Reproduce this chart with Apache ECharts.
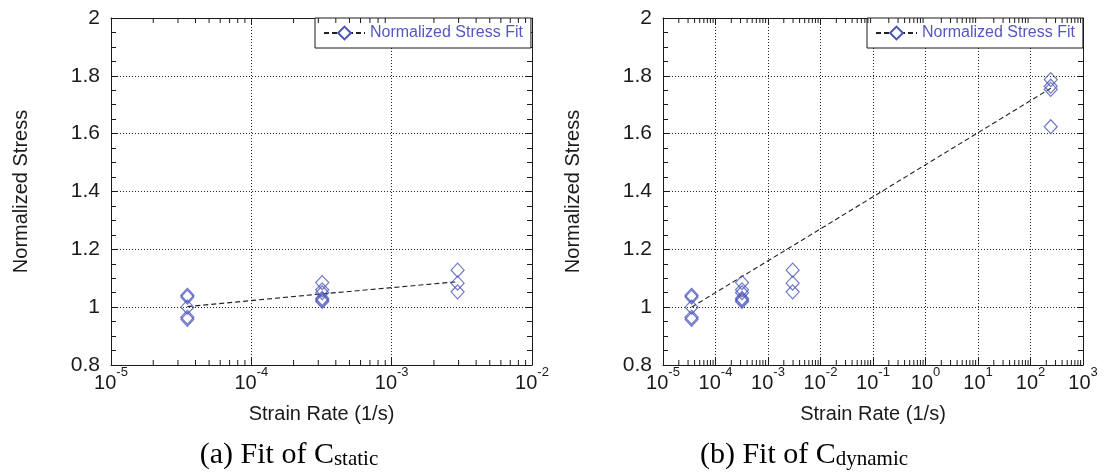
<!DOCTYPE html>
<html><head><meta charset="utf-8">
<script src="https://cdn.jsdelivr.net/npm/echarts@6/dist/echarts.min.js"></script>
<style>html,body{margin:0;padding:0;background:#fff}#c{width:1107px;height:473px}</style>
</head><body><div id="c"></div>
<script>
// ---- data ----
const yTicks = [0.8, 1.0, 1.2, 1.4, 1.6, 1.8, 2.0];
const decadesA = [-5, -4, -3, -2];
const decadesB = [-5, -4, -3, -2, -1, 0, 1, 2, 3];
const rateGroups = [3.5e-5, 3.2e-4, 2.95e-3, 243];
const stressG1 = [1.041, 1.035, 1.0, 0.965, 0.958];
const stressG2 = [1.085, 1.06, 1.05, 1.03, 1.025, 1.02];
const stressG3 = [1.128, 1.083, 1.053];
const stressG4 = [1.787, 1.764, 1.753, 1.624];
const fitStatic = [1.002, 1.046, 1.088];
const fitDynamic = [1.0, 1.106, 1.212, 1.757];
const legendName = 'Normalized Stress Fit';
const xName = 'Strain Rate (1/s)';
const yName = 'Normalized Stress';

// ---- build series data ----
function pts(x, ys) { return ys.map(v => [x, v]); }
const scatterA = [].concat(pts(rateGroups[0], stressG1), pts(rateGroups[1], stressG2), pts(rateGroups[2], stressG3));
const scatterB = scatterA.concat(pts(rateGroups[3], stressG4));
const fitA = fitStatic.map((v, i) => [rateGroups[i], v]);
const fitB = fitDynamic.map((v, i) => [rateGroups[i], v]);
function minorTicks(decs) {
  const out = [];
  for (let i = 0; i < decs.length - 1; i++) for (let k = 2; k <= 9; k++) out.push([k * Math.pow(10, decs[i]), 0.8]);
  return out;
}

const FONT = 'Liberation Sans';
const BLUE = '#4b55b8';
const INK = '#1a1a1a';

function xAxisCfg(grid, decs, pos) {
  const top = pos === 'top';
  return {
    type: 'log', logBase: 10, gridIndex: grid, position: pos,
    min: Math.pow(10, decs[0]), max: Math.pow(10, decs[decs.length - 1]),
    splitNumber: decs.length - 1,
    axisLine: { show: true, lineStyle: { color: INK, width: 1 } },
    axisTick: { show: true, inside: true, length: 7, lineStyle: { color: INK } },
    minorTick: { show: false },
    splitLine: { show: !top, lineStyle: { color: '#222', type: [1, 2], width: 1 } },
    axisLabel: top ? { show: false } : {
      show: true, margin: 6, interval: 0, showMinLabel: true, showMaxLabel: true,
      formatter: v => '{b|10}{e|' + Math.round(Math.log10(v)) + '}',
      rich: {
        b: { fontSize: 20, lineHeight: 22, fontFamily: FONT, color: INK, verticalAlign: 'bottom' },
        e: { fontSize: 13, lineHeight: 13, fontFamily: FONT, color: INK, verticalAlign: 'bottom', padding: [0, 0, 14, 0] }
      }
    },
    name: top ? '' : xName, nameLocation: 'middle', nameGap: 39,
    nameTextStyle: { fontSize: 20, fontFamily: FONT, color: INK }
  };
}
function yAxisCfg(grid, pos) {
  const right = pos === 'right';
  return {
    type: 'value', gridIndex: grid, position: pos,
    min: yTicks[0], max: yTicks[yTicks.length - 1], interval: 0.2,
    axisLine: { show: true, lineStyle: { color: INK, width: 1 } },
    axisTick: { show: true, inside: true, length: 6, lineStyle: { color: INK } },
    minorTick: { show: true, splitNumber: 4, length: 5, lineStyle: { color: INK } },
    splitLine: { show: !right, lineStyle: { color: '#222', type: [1, 2], width: 1 } },
    axisLabel: right ? { show: false } : { show: true, margin: 11, fontSize: 21, fontFamily: FONT, color: INK },
    name: right ? '' : yName, nameLocation: 'middle', nameGap: 80, nameRotate: 90,
    nameTextStyle: { fontSize: 20, fontFamily: FONT, color: INK }
  };
}
function scatterSeries(idx, data) {
  return {
    type: 'scatter', name: 'data', xAxisIndex: idx * 2, yAxisIndex: idx * 2,
    data: data, symbol: 'diamond', symbolSize: [13, 14], z: 4,
    itemStyle: { color: 'rgba(255,255,255,0)', borderColor: BLUE, borderWidth: 1.2 }
  };
}
function fitSeries(idx, data) {
  return {
    type: 'line', name: legendName, xAxisIndex: idx * 2, yAxisIndex: idx * 2,
    data: data, symbol: 'diamond', symbolSize: 12, showSymbol: false, z: 3,
    itemStyle: { color: '#fff', borderColor: BLUE, borderWidth: 1 },
    lineStyle: { color: '#222', width: 1.1, type: [5, 3] }
  };
}
function minorSeries(idx, data) {
  return {
    type: 'custom', name: 'minor', xAxisIndex: idx * 2, yAxisIndex: idx * 2,
    data: data, silent: true, clip: false, z: 5,
    renderItem: function (params, api) {
      const x = api.coord([api.value(0), api.value(1)])[0];
      const cs = params.coordSys;
      const st = { stroke: INK, lineWidth: 1 };
      return { type: 'group', children: [
        { type: 'line', shape: { x1: x, y1: cs.y + cs.height, x2: x, y2: cs.y + cs.height - 5 }, style: st },
        { type: 'line', shape: { x1: x, y1: cs.y, x2: x, y2: cs.y + 5 }, style: st }
      ] };
    }
  };
}
function legendCfg(left) {
  return {
    left: left, top: 18, orient: 'horizontal', padding: [7, 8, 7, 8],
    itemWidth: 41, itemHeight: 16, itemGap: 0, selectedMode: false,
    borderColor: INK, borderWidth: 1, backgroundColor: '#fff',
    textStyle: { fontSize: 16, fontFamily: FONT, color: '#5656c2' },
    data: [legendName]
  };
}
function caption(x, main, sub) {
  return {
    type: 'text', x: x, y: 470,
    style: {
      text: '{m|' + main + '}{s|' + sub + '}', align: 'center', verticalAlign: 'bottom',
      rich: {
        m: { fontSize: 30, lineHeight: 34, fontFamily: 'Liberation Serif', fill: '#000', verticalAlign: 'bottom' },
        s: { fontSize: 21, lineHeight: 21, fontFamily: 'Liberation Serif', fill: '#000', verticalAlign: 'bottom' }
      }
    }
  };
}

const chart = echarts.init(document.getElementById('c'), null, { renderer: 'canvas' });
chart.setOption({
  animation: false,
  backgroundColor: '#fff',
  grid: [
    { left: 111, top: 18, width: 421, height: 347 },
    { left: 663, top: 18, width: 420, height: 347 }
  ],
  xAxis: [xAxisCfg(0, decadesA, 'bottom'), xAxisCfg(0, decadesA, 'top'), xAxisCfg(1, decadesB, 'bottom'), xAxisCfg(1, decadesB, 'top')],
  yAxis: [yAxisCfg(0, 'left'), yAxisCfg(0, 'right'), yAxisCfg(1, 'left'), yAxisCfg(1, 'right')],
  legend: [legendCfg(315), legendCfg(867)],
  series: [
    fitSeries(0, fitA), scatterSeries(0, scatterA), minorSeries(0, minorTicks(decadesA)),
    fitSeries(1, fitB), scatterSeries(1, scatterB), minorSeries(1, minorTicks(decadesB))
  ],
  graphic: [caption(289, '(a) Fit of C', 'static'), caption(804, '(b) Fit of C', 'dynamic')]
});
</script></body></html>
